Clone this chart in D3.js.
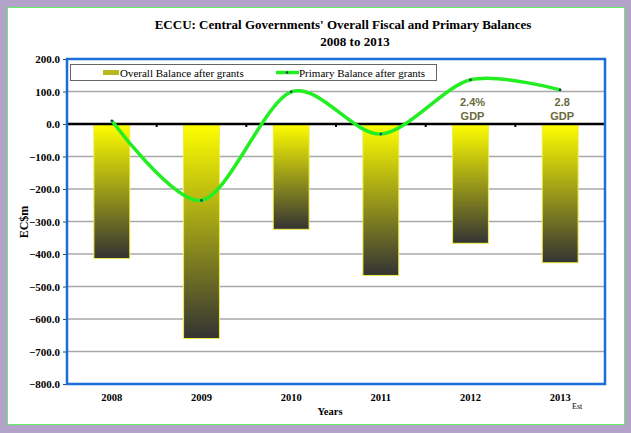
<!DOCTYPE html>
<html>
<head>
<meta charset="utf-8">
<script src="https://cdn.jsdelivr.net/npm/d3@7"></script>
<style>
  body { margin: 0; background: #b3a3c9; }
  svg { display: block; }
</style>
</head>
<body>
<svg></svg>
<script>
var width = 631;
var height = 433;

// data
var years = ["2008", "2009", "2010", "2011", "2012", "2013"];
var overallBalance = [-414, -660, -324, -466, -367, -427];
var primaryBalance = [10, -235, 99, -31, 136, 105];
var yTicks = [200, 100, 0, -100, -200, -300, -400, -500, -600, -700, -800];
var gdpNotes = [null, null, null, null, ["2.4%", "GDP"], ["2.8", "GDP"]];

var margin = { left: 67, right: 26, top: 59, bottom: 49 };
var serif = "'Liberation Serif', 'Times New Roman', serif";

const svg = d3.select('svg')
    .attr('width', width)
    .attr('height', height);

// purple backdrop + white panel
svg.append('rect').attr('width', width).attr('height', height).attr('fill', '#b3a3c9');
svg.append('rect')
    .attr('x', 7.5).attr('y', 7.5)
    .attr('width', 617).attr('height', 417)
    .attr('fill', '#fff')
    .attr('stroke', '#66ee66').attr('stroke-width', 1);

const x = d3.scaleBand()
    .domain(years)
    .range([margin.left, width - margin.right]);

const y = d3.scaleLinear()
    .domain([-800, 200])
    .range([height - margin.bottom, margin.top]);

// gradient for bars
var defs = svg.append('defs');
var grad = defs.append('linearGradient')
    .attr('id', 'barGrad')
    .attr('x1', 0).attr('y1', 0).attr('x2', 0).attr('y2', 1);
grad.append('stop').attr('offset', '0%').attr('stop-color', '#ffff00');
grad.append('stop').attr('offset', '100%').attr('stop-color', '#333333');

// title
svg.append('text')
    .attr('x', 343).attr('y', 29)
    .attr('text-anchor', 'middle')
    .style('font', "bold 13px " + serif)
    .text("ECCU: Central Governments' Overall Fiscal and Primary Balances");
svg.append('text')
    .attr('x', 355).attr('y', 46)
    .attr('text-anchor', 'middle')
    .style('font', "bold 13px " + serif)
    .text("2008 to 2013");

// gridlines
svg.append('g')
    .selectAll('line')
    .data(yTicks.filter(d => d !== 0 && d !== 200 && d !== -800))
    .enter().append('line')
    .attr('x1', margin.left).attr('x2', width - margin.right)
    .attr('y1', d => y(d)).attr('y2', d => y(d))
    .attr('stroke', '#a8a8a8').attr('stroke-width', 1.5);

// y axis
const yAxis = svg.append('g')
    .attr('transform', `translate(${margin.left},0)`)
    .call(d3.axisLeft(y).tickValues(yTicks).tickFormat(d3.format('.1f')).tickSize(4).tickPadding(3));
yAxis.select('.domain').remove();
yAxis.selectAll('text').style('font', "bold 11px " + serif).attr('fill', '#000');
yAxis.selectAll('line').attr('stroke', '#444');

// bars
svg.append('g')
    .selectAll('rect')
    .data(overallBalance)
    .enter().append('rect')
    .attr('x', (d, i) => x(years[i]) + x.bandwidth() * 0.3)
    .attr('width', x.bandwidth() * 0.4)
    .attr('y', d => y(Math.max(0, d)))
    .attr('height', d => Math.abs(y(d) - y(0)))
    .attr('fill', 'url(#barGrad)')
    .attr('stroke', '#eeee44').attr('stroke-width', 1);

// zero line with category ticks
svg.append('line')
    .attr('x1', margin.left).attr('x2', width - margin.right)
    .attr('y1', y(0)).attr('y2', y(0))
    .attr('stroke', '#000').attr('stroke-width', 2.5);
svg.append('g')
    .selectAll('line')
    .data(years.slice(1))
    .enter().append('line')
    .attr('x1', d => x(d)).attr('x2', d => x(d))
    .attr('y1', y(0)).attr('y2', y(0) + 3)
    .attr('stroke', '#000').attr('stroke-width', 2);

// primary balance line
const line = d3.line()
    .x((d, i) => x(years[i]) + x.bandwidth() / 2)
    .y(d => y(d))
    .curve(d3.curveCardinal.tension(0.1));
svg.append('path')
    .datum(primaryBalance)
    .attr('d', line)
    .attr('fill', 'none')
    .attr('stroke', '#22ee22')
    .attr('stroke-width', 3.5);
svg.append('g')
    .selectAll('circle')
    .data(primaryBalance)
    .enter().append('circle')
    .attr('cx', (d, i) => x(years[i]) + x.bandwidth() / 2)
    .attr('cy', d => y(d))
    .attr('r', 1.3)
    .attr('fill', '#1a3a6a');

// gdp notes
gdpNotes.forEach(function(n, i) {
    if (!n) return;
    var cx = x(years[i]) + x.bandwidth() / 2 + 2;
    n.forEach(function(t, k) {
        svg.append('text')
            .attr('x', cx).attr('y', 106 + k * 14)
            .attr('text-anchor', 'middle')
            .style('font', "bold 11px 'Liberation Sans', Arial, sans-serif")
            .attr('fill', '#6b6b3c')
            .text(t);
    });
});

// plot frame
svg.append('rect')
    .attr('x', margin.left).attr('y', margin.top)
    .attr('width', width - margin.left - margin.right)
    .attr('height', height - margin.top - margin.bottom)
    .attr('fill', 'none')
    .attr('stroke', '#1a6fd6').attr('stroke-width', 2.5);

// x labels
svg.append('g')
    .selectAll('text')
    .data(years)
    .enter().append('text')
    .attr('x', d => x(d) + x.bandwidth() / 2)
    .attr('y', 401)
    .attr('text-anchor', 'middle')
    .style('font', "bold 10.5px " + serif)
    .text(d => d);
svg.append('text')
    .attr('x', x("2013") + x.bandwidth() / 2 + 17).attr('y', 409)
    .attr('text-anchor', 'middle')
    .style('font', "8px " + serif)
    .text("Est");
svg.append('text')
    .attr('x', 330).attr('y', 415)
    .attr('text-anchor', 'middle')
    .style('font', "bold 10.5px " + serif)
    .text("Years");

// y title
svg.append('text')
    .attr('transform', 'translate(28,222) rotate(-90)')
    .attr('text-anchor', 'middle')
    .style('font', "bold 12px " + serif)
    .text("EC$m");

// legend
const legend = svg.append('g');
legend.append('rect')
    .attr('x', 70.5).attr('y', 64.5)
    .attr('width', 366).attr('height', 16)
    .attr('fill', '#fff')
    .attr('stroke', '#666').attr('stroke-width', 1);
legend.append('rect')
    .attr('x', 103).attr('y', 70).attr('width', 16).attr('height', 5)
    .attr('fill', '#b8b820');
legend.append('text')
    .attr('x', 120).attr('y', 76.5)
    .style('font', "11px " + serif)
    .text("Overall Balance after grants");
legend.append('line')
    .attr('x1', 276).attr('x2', 299).attr('y1', 72.5).attr('y2', 72.5)
    .attr('stroke', '#22ee22').attr('stroke-width', 3.5);
legend.append('circle').attr('cx', 287).attr('cy', 72.5).attr('r', 1.2).attr('fill', '#1a3a6a');
legend.append('text')
    .attr('x', 299).attr('y', 76.5)
    .style('font', "11px " + serif)
    .text("Primary Balance after grants");
</script>
</body>
</html>
